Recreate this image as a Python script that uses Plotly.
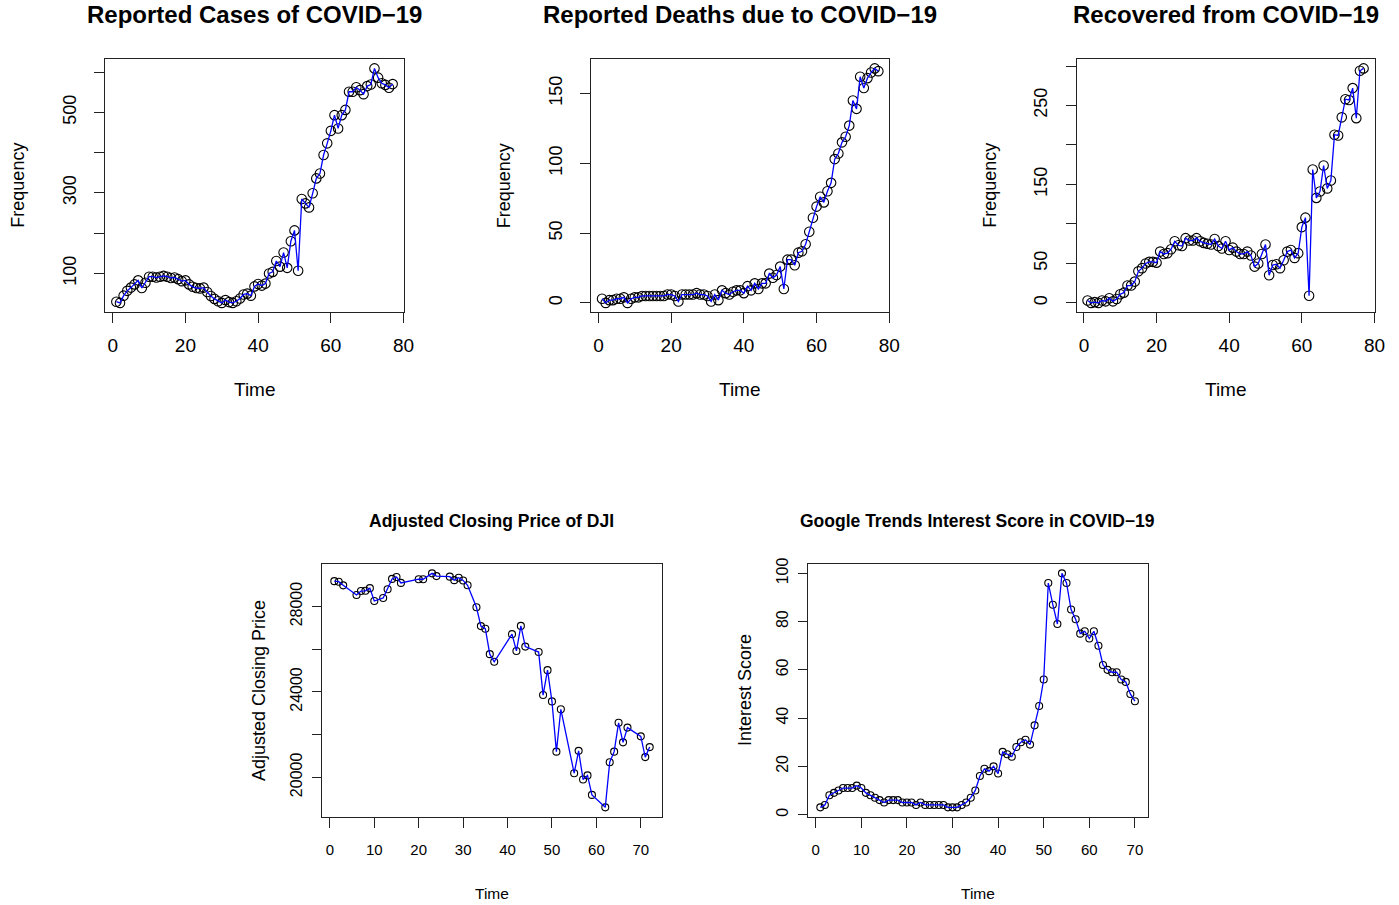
import plotly.graph_objects as go

W, H = 1399, 905

# ---------------- data ----------------
time_covid = list(range(1, 78))
cases = [30, 27, 45, 57, 65, 73, 83, 64, 77, 92,
         92, 90, 92, 94, 92, 89, 90, 86, 81, 83,
         73, 67, 64, 63, 65, 54, 44, 37, 31, 27,
         34, 29, 27, 31, 38, 48, 50, 45, 68, 74,
         70, 75, 100, 104, 131, 117, 152, 114, 180, 207,
         107, 285, 274, 264, 299, 336, 348, 394, 423, 454,
         493, 460, 493, 506, 551, 551, 562, 555, 545, 565,
         569, 609, 586, 572, 568, 561, 570]
deaths = [3, 0, 2, 2, 3, 3, 4, 0, 3, 4,
          4, 5, 5, 5, 5, 5, 5, 5, 6, 6,
          5, 1, 6, 6, 6, 6, 7, 6, 6, 5,
          1, 6, 2, 9, 7, 6, 8, 9, 9, 7,
          12, 9, 14, 10, 14, 14, 21, 18, 20, 26,
          10, 31, 31, 27, 36, 37, 42, 51, 61, 69,
          76, 72, 80, 86, 103, 107, 115, 119, 127, 145,
          139, 162, 154, 161, 165, 168, 166]
recovered = [3, 0, 1, 0, 3, 2, 6, 2, 5, 11,
             13, 22, 22, 27, 40, 44, 50, 52, 52, 51,
             65, 62, 63, 68, 78, 73, 72, 82, 79, 79,
             82, 78, 76, 75, 74, 81, 72, 69, 78, 67,
             70, 65, 62, 62, 65, 60, 46, 50, 62, 74,
             35, 48, 49, 44, 54, 65, 67, 57, 63, 96,
             108, 9, 169, 133, 141, 174, 145, 155, 213, 212,
             235, 258, 257, 272, 234, 294, 297]

dji_time = [1, 2, 3, 6, 7, 8, 9, 10, 12, 13, 14, 15, 16, 20, 21, 23, 24,
            27, 28, 29, 30, 31, 33, 34, 35, 36, 37, 41, 42, 43, 44,
            47, 48, 49, 50, 51, 52, 55, 56, 57, 58, 59,
            62, 63, 64, 65, 66, 67, 70, 71, 72]
dji_close = [29186, 29160, 28990, 28536, 28723, 28734, 28859, 28256,
             28400, 28808, 29291, 29380, 29103, 29277, 29276, 29551, 29423,
             29398, 29232, 29348, 29220, 28992, 27961, 27081, 26958, 25767, 25409,
             26703, 25917, 27091, 26121, 25865, 23851, 25018, 23553, 21201, 23186,
             20189, 21237, 19899, 20087, 19174,
             18592, 20705, 21201, 22552, 21637, 22327, 21917, 20944, 21413]

trends_time = list(range(1, 71))
trends_score = [3, 4, 8, 9, 10, 11, 11, 11, 12, 11,
                9, 8, 7, 6, 5, 6, 6, 6, 5, 5,
                5, 4, 5, 4, 4, 4, 4, 4, 3, 3,
                3, 4, 5, 7, 10, 16, 19, 18, 20, 17,
                26, 25, 24, 28, 30, 31, 29, 37, 45, 56,
                96, 87, 79, 100, 96, 85, 81, 75, 76, 73,
                76, 70, 62, 60, 59, 59, 56, 55, 50, 47]

top_xticks = [0, 20, 40, 60, 80]
bot_xticks = [0, 10, 20, 30, 40, 50, 60, 70]

panels = [
    dict(x=time_covid, y=cases, title="Reported Cases of COVID\u221219", ylab="Frequency",
         box=(105.3, 403.7, 59, 312.3), xticks=top_xticks,
         yticks=[100, 200, 300, 400, 500, 600], ylabels=["100", "", "300", "", "500", ""], row="top"),
    dict(x=time_covid, y=deaths, title="Reported Deaths due to COVID\u221219", ylab="Frequency",
         box=(591.0, 889.4, 59, 312.3), xticks=top_xticks,
         yticks=[0, 50, 100, 150], ylabels=["0", "50", "100", "150"], row="top"),
    dict(x=time_covid, y=recovered, title="Recovered from COVID\u221219", ylab="Frequency",
         box=(1076.5, 1374.6, 59, 312.3), xticks=top_xticks,
         yticks=[0, 50, 100, 150, 200, 250, 300], ylabels=["0", "50", "", "150", "", "250", ""], row="top"),
    dict(x=dji_time, y=dji_close, title="Adjusted Closing Price of DJI", ylab="Adjusted Closing Price",
         box=(321.7, 662.3, 564, 816.7), xticks=bot_xticks,
         yticks=[20000, 22000, 24000, 26000, 28000], ylabels=["20000", "", "24000", "", "28000"], row="bot"),
    dict(x=trends_time, y=trends_score, title="Google Trends Interest Score in COVID\u221219", ylab="Interest Score",
         box=(807.7, 1147.5, 564, 816.7), xticks=bot_xticks,
         yticks=[0, 20, 40, 60, 80, 100], ylabels=["0", "20", "40", "60", "80", "100"], row="bot"),
]

FONT = "Liberation Sans, Arial, Helvetica, sans-serif"


def rrange(v):
    lo, hi = min(v), max(v)
    r = hi - lo
    return [lo - 0.04 * r, hi + 0.04 * r]


fig = go.Figure()
annotations = []
layout = dict(width=W, height=H, margin=dict(l=0, r=0, t=0, b=0, pad=0), autosize=False,
              paper_bgcolor="white", plot_bgcolor="white", showlegend=False,
              font=dict(family=FONT, color="black"))

for i, p in enumerate(panels, start=1):
    x0, x1, y0, y1 = p["box"]
    top = p["row"] == "top"
    xa = "x" if i == 1 else f"x{i}"
    ya = "y" if i == 1 else f"y{i}"
    msize = 9.5 if top else 7
    fig.add_trace(go.Scatter(x=p["x"], y=p["y"], mode="markers", xaxis=xa, yaxis=ya,
                             marker=dict(symbol="circle-open", size=msize,
                                         line=dict(color="black", width=1.1), color="black"),
                             hoverinfo="skip"))
    fig.add_trace(go.Scatter(x=p["x"], y=p["y"], mode="lines", xaxis=xa, yaxis=ya,
                             line=dict(color="#0000ff", width=1.3), hoverinfo="skip"))
    xr = rrange(p["x"])
    yr = rrange(p["y"])
    common = dict(showgrid=False, zeroline=False, showline=True, mirror=True,
                  linecolor="#222222", linewidth=1, ticks="outside",
                  tickcolor="#222222", tickwidth=1, automargin=False)
    layout["xaxis" if i == 1 else f"xaxis{i}"] = dict(
        domain=[x0 / W, x1 / W], anchor=ya, range=xr, tickmode="array",
        tickvals=p["xticks"], ticktext=[str(t) for t in p["xticks"]],
        ticklen=10,
        tickfont=dict(size=19 if top else 15, family=FONT),
        ticklabelstandoff=6 if top else 9, **common)
    layout["yaxis" if i == 1 else f"yaxis{i}"] = dict(
        domain=[1 - y1 / H, 1 - y0 / H], anchor=xa, range=yr, tickmode="array",
        tickvals=p["yticks"], ticktext=p["ylabels"], tickangle=-90,
        ticklen=10 if top else 9,
        tickfont=dict(size=18 if top else 16, family=FONT),
        ticklabelstandoff=11 if top else 3, **common)

    cx = (x0 + x1) / 2
    # main title
    annotations.append(dict(text=f"<b>{p['title']}</b>", x=cx / W, y=1 - (14 if top else 521) / H,
                            xref="paper", yref="paper", xanchor="center", yanchor="middle",
                            showarrow=False, font=dict(size=24 if top else 17.5, family=FONT)))
    # x title
    annotations.append(dict(text="Time", x=cx / W, y=1 - (389 if top else 893) / H,
                            xref="paper", yref="paper", xanchor="center", yanchor="middle",
                            showarrow=False, font=dict(size=19 if top else 15.5, family=FONT)))
    # y title
    yoff = 87.3 if top else 62
    annotations.append(dict(text=p["ylab"], x=(x0 - yoff) / W, y=1 - ((y0 + y1) / 2) / H,
                            xref="paper", yref="paper", xanchor="center", yanchor="middle",
                            textangle=-90, showarrow=False,
                            font=dict(size=18, family=FONT)))

layout["annotations"] = annotations
fig.update_layout(**layout)
fig.write_html("out.html")
